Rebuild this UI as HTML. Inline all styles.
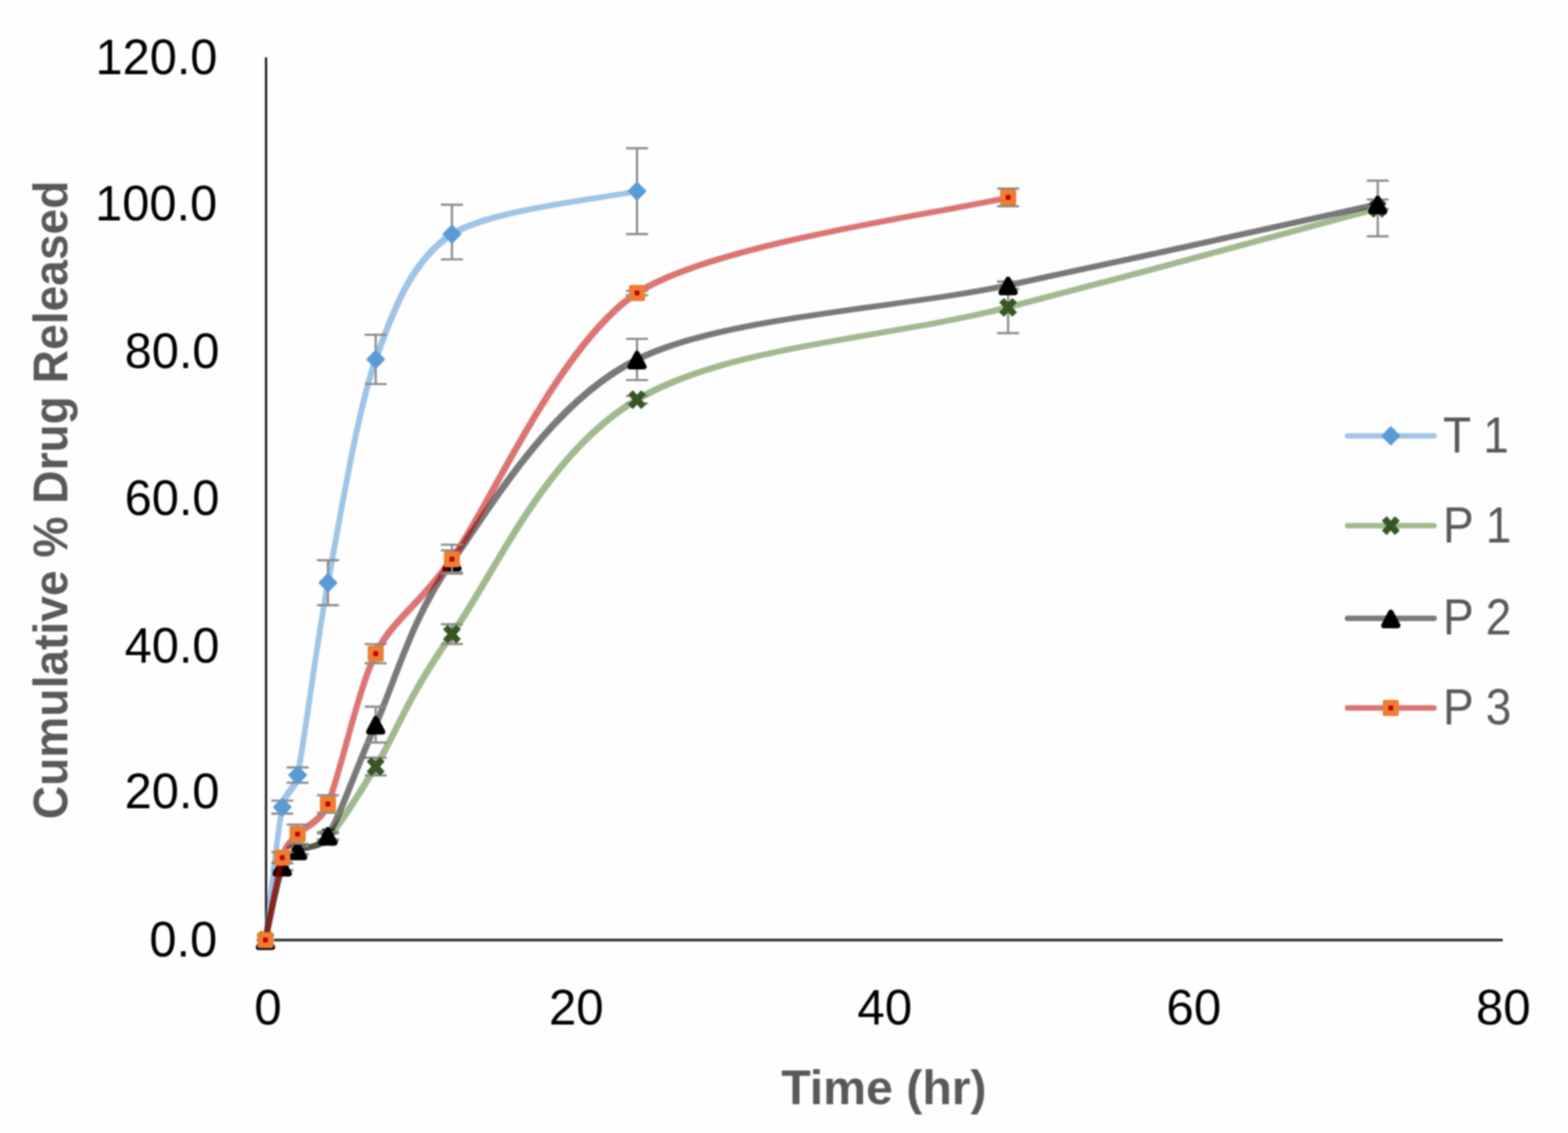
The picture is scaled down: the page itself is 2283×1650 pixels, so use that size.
<!DOCTYPE html>
<html><head><meta charset="utf-8"><title>Cumulative % Drug Released</title>
<style>
html,body{margin:0;padding:0;background:#fefefe;width:2283px;height:1650px;overflow:hidden}
svg{display:block;filter:blur(0.8px)}
text{font-family:"Liberation Sans",Arial,sans-serif}
</style></head><body>
<svg width="2283" height="1650" viewBox="0 0 2283 1650">
<defs><filter id="sq" filterUnits="userSpaceOnUse" x="0" y="0" width="2283" height="1650"><feMorphology operator="dilate" radius="2.75"/></filter></defs>
<rect width="2283" height="1650" fill="#fefefe"/>

<line x1="387.4" y1="83.5" x2="387.4" y2="1369.0" stroke="#1a1a1a" stroke-width="3.3"/>
<line x1="387.4" y1="1369.0" x2="2188" y2="1369.0" stroke="#383838" stroke-width="4.2"/>
<text transform="translate(316.20,1392.70) scale(1.0,1.03)" text-anchor="end" font-size="71" fill="#000" >0.0</text>
<text transform="translate(319.60,1177.45) scale(1.0,1.03)" text-anchor="end" font-size="71" fill="#000" >20.0</text>
<text transform="translate(319.60,965.45) scale(1.0,1.03)" text-anchor="end" font-size="71" fill="#000" >40.0</text>
<text transform="translate(319.60,749.60) scale(1.0,1.03)" text-anchor="end" font-size="71" fill="#000" >60.0</text>
<text transform="translate(319.60,536.30) scale(1.0,1.03)" text-anchor="end" font-size="71" fill="#000" >80.0</text>
<text transform="translate(316.20,321.05) scale(1.0,1.03)" text-anchor="end" font-size="71" fill="#000" >100.0</text>
<text transform="translate(316.60,108.30) scale(1.0,1.03)" text-anchor="end" font-size="71" fill="#000" >120.0</text>
<text transform="translate(390.20,1492.30) scale(1.01,1.02)" text-anchor="middle" font-size="71" fill="#000" >0</text>
<text transform="translate(839.05,1492.30) scale(1.01,1.02)" text-anchor="middle" font-size="71" fill="#000" >20</text>
<text transform="translate(1288.15,1492.30) scale(1.01,1.02)" text-anchor="middle" font-size="71" fill="#000" >40</text>
<text transform="translate(1738.15,1492.30) scale(1.01,1.02)" text-anchor="middle" font-size="71" fill="#000" >60</text>
<text transform="translate(2188.80,1492.30) scale(1.01,1.02)" text-anchor="middle" font-size="71" fill="#000" >80</text>
<text x="1287" y="1608" text-anchor="middle" font-size="70" font-weight="bold" fill="#595959" textLength="299" lengthAdjust="spacingAndGlyphs">Time (hr)</text>
<text transform="translate(97.7,728) rotate(-90)" x="0" y="0" text-anchor="middle" font-size="70" font-weight="bold" fill="#595959" textLength="930" lengthAdjust="spacingAndGlyphs">Cumulative % Drug Released</text>
<g opacity="0.58"><path filter="url(#sq)" d="M386.50,1369.00 C390.18,1339.96 403.98,1211.43 411.00,1175.40 C415.94,1150.05 428.15,1154.12 433.30,1128.82 C443.28,1079.81 460.44,939.51 477.50,848.70 C494.56,757.88 519.92,599.54 547.00,523.39 C574.08,447.24 600.92,377.78 658.00,341.03 C715.08,304.28 887.08,287.79 927.50,278.39" stroke="#5B9BD5" stroke-width="1.5" fill="none" stroke-linecap="round" stroke-linejoin="round"/></g>
<path d="M411.00,1165.98 V1184.82 M395.00,1165.98 H427.00 M395.00,1184.82 H427.00" stroke="#8A8A8A" stroke-width="3.2" fill="none"/>
<path d="M433.30,1117.68 V1139.96 M417.30,1117.68 H449.30 M417.30,1139.96 H449.30" stroke="#8A8A8A" stroke-width="3.2" fill="none"/>
<path d="M477.50,815.93 V881.46 M461.50,815.93 H493.50 M461.50,881.46 H493.50" stroke="#8A8A8A" stroke-width="3.2" fill="none"/>
<path d="M547.00,487.52 V559.26 M531.00,487.52 H563.00 M531.00,559.26 H563.00" stroke="#8A8A8A" stroke-width="3.2" fill="none"/>
<path d="M658.00,298.20 V377.76 M642.00,298.20 H674.00 M642.00,377.76 H674.00" stroke="#8A8A8A" stroke-width="3.2" fill="none"/>
<path d="M927.50,215.86 V340.92 M911.50,215.86 H943.50 M911.50,340.92 H943.50" stroke="#8A8A8A" stroke-width="3.2" fill="none"/>
<path d="M386.50,1356.00 L399.20,1369.00 L386.50,1382.00 L373.80,1369.00 Z" fill="#5B9BD5" stroke="#5B9BD5" stroke-width="2" stroke-linejoin="round"/>
<path d="M411.00,1162.40 L423.70,1175.40 L411.00,1188.40 L398.30,1175.40 Z" fill="#5B9BD5" stroke="#5B9BD5" stroke-width="2" stroke-linejoin="round"/>
<path d="M433.30,1115.82 L446.00,1128.82 L433.30,1141.82 L420.60,1128.82 Z" fill="#5B9BD5" stroke="#5B9BD5" stroke-width="2" stroke-linejoin="round"/>
<path d="M477.50,835.70 L490.20,848.70 L477.50,861.70 L464.80,848.70 Z" fill="#5B9BD5" stroke="#5B9BD5" stroke-width="2" stroke-linejoin="round"/>
<path d="M547.00,510.39 L559.70,523.39 L547.00,536.39 L534.30,523.39 Z" fill="#5B9BD5" stroke="#5B9BD5" stroke-width="2" stroke-linejoin="round"/>
<path d="M658.00,328.03 L670.70,341.03 L658.00,354.03 L645.30,341.03 Z" fill="#5B9BD5" stroke="#5B9BD5" stroke-width="2" stroke-linejoin="round"/>
<path d="M927.50,265.39 L940.20,278.39 L927.50,291.39 L914.80,278.39 Z" fill="#5B9BD5" stroke="#5B9BD5" stroke-width="2" stroke-linejoin="round"/>
<g opacity="0.55"><path filter="url(#sq)" d="M386.50,1369.00 C390.58,1351.15 403.20,1283.51 411.00,1261.92 C416.38,1247.03 422.22,1246.57 433.30,1239.43 C444.38,1232.29 461.00,1236.96 477.50,1219.09 C496.45,1198.56 516.92,1165.55 547.00,1116.29 C577.08,1067.03 594.58,1012.60 658.00,923.55 C721.42,834.49 792.53,661.29 927.50,581.96 C1062.47,502.63 1288.05,493.98 1467.80,447.58 C1647.55,401.18 1916.30,327.56 2006.00,303.55" stroke="#548235" stroke-width="1.5" fill="none" stroke-linecap="round" stroke-linejoin="round"/></g>
<path d="M411.00,1256.57 V1267.27 M395.00,1256.57 H427.00 M395.00,1267.27 H427.00" stroke="#8A8A8A" stroke-width="3.2" fill="none"/>
<path d="M433.30,1234.08 V1244.79 M417.30,1234.08 H449.30 M417.30,1244.79 H449.30" stroke="#8A8A8A" stroke-width="3.2" fill="none"/>
<path d="M477.50,1213.73 V1224.44 M461.50,1213.73 H493.50 M461.50,1224.44 H493.50" stroke="#8A8A8A" stroke-width="3.2" fill="none"/>
<path d="M547.00,1103.44 V1129.14 M531.00,1103.44 H563.00 M531.00,1129.14 H563.00" stroke="#8A8A8A" stroke-width="3.2" fill="none"/>
<path d="M658.00,909.20 V937.90 M642.00,909.20 H674.00 M642.00,937.90 H674.00" stroke="#8A8A8A" stroke-width="3.2" fill="none"/>
<path d="M927.50,576.61 V587.32 M911.50,576.61 H943.50 M911.50,587.32 H943.50" stroke="#8A8A8A" stroke-width="3.2" fill="none"/>
<path d="M1467.80,410.10 V485.05 M1451.80,410.10 H1483.80 M1451.80,485.05 H1483.80" stroke="#8A8A8A" stroke-width="3.2" fill="none"/>
<path d="M2006.00,263.08 V344.03 M1990.00,263.08 H2022.00 M1990.00,344.03 H2022.00" stroke="#8A8A8A" stroke-width="3.2" fill="none"/>
<path d="M377.00,1358.50 L396.00,1379.50 M396.00,1358.50 L377.00,1379.50" stroke="#375623" stroke-width="9.50" stroke-linecap="butt" fill="none"/>
<path d="M401.50,1251.42 L420.50,1272.42 M420.50,1251.42 L401.50,1272.42" stroke="#375623" stroke-width="9.50" stroke-linecap="butt" fill="none"/>
<path d="M423.80,1228.93 L442.80,1249.93 M442.80,1228.93 L423.80,1249.93" stroke="#375623" stroke-width="9.50" stroke-linecap="butt" fill="none"/>
<path d="M468.00,1208.59 L487.00,1229.59 M487.00,1208.59 L468.00,1229.59" stroke="#375623" stroke-width="9.50" stroke-linecap="butt" fill="none"/>
<path d="M537.50,1105.79 L556.50,1126.79 M556.50,1105.79 L537.50,1126.79" stroke="#375623" stroke-width="9.50" stroke-linecap="butt" fill="none"/>
<path d="M648.50,913.05 L667.50,934.05 M667.50,913.05 L648.50,934.05" stroke="#375623" stroke-width="9.50" stroke-linecap="butt" fill="none"/>
<path d="M918.00,571.46 L937.00,592.46 M937.00,571.46 L918.00,592.46" stroke="#375623" stroke-width="9.50" stroke-linecap="butt" fill="none"/>
<path d="M1458.30,437.08 L1477.30,458.08 M1477.30,437.08 L1458.30,458.08" stroke="#375623" stroke-width="9.50" stroke-linecap="butt" fill="none"/>
<path d="M1996.50,293.05 L2015.50,314.05 M2015.50,293.05 L1996.50,314.05" stroke="#375623" stroke-width="9.50" stroke-linecap="butt" fill="none"/>
<g opacity="0.52"><path filter="url(#sq)" d="M386.50,1369.00 C390.30,1352.40 403.75,1282.17 411.00,1261.92 C416.47,1246.65 422.99,1245.33 433.30,1238.36 C443.61,1231.39 464.55,1237.81 477.50,1216.95 C495.12,1188.56 519.02,1117.16 547.00,1055.26 C574.98,993.35 599.02,899.96 658.00,817.54 C716.98,735.12 801.98,585.82 927.50,523.50 C1053.02,461.17 1300.63,450.49 1467.80,415.45 C1634.97,380.42 1922.58,315.74 2006.00,297.45" stroke="#000000" stroke-width="1.5" fill="none" stroke-linecap="round" stroke-linejoin="round"/></g>
<path d="M411.00,1256.57 V1267.27 M395.00,1256.57 H427.00 M395.00,1267.27 H427.00" stroke="#8A8A8A" stroke-width="3.2" fill="none"/>
<path d="M433.30,1233.01 V1243.72 M417.30,1233.01 H449.30 M417.30,1243.72 H449.30" stroke="#8A8A8A" stroke-width="3.2" fill="none"/>
<path d="M477.50,1211.59 V1222.30 M461.50,1211.59 H493.50 M461.50,1222.30 H493.50" stroke="#8A8A8A" stroke-width="3.2" fill="none"/>
<path d="M547.00,1029.13 V1081.38 M531.00,1029.13 H563.00 M531.00,1081.38 H563.00" stroke="#8A8A8A" stroke-width="3.2" fill="none"/>
<path d="M658.00,801.48 V833.60 M642.00,801.48 H674.00 M642.00,833.60 H674.00" stroke="#8A8A8A" stroke-width="3.2" fill="none"/>
<path d="M927.50,493.51 V553.48 M911.50,493.51 H943.50 M911.50,553.48 H943.50" stroke="#8A8A8A" stroke-width="3.2" fill="none"/>
<path d="M1467.80,410.10 V420.81 M1451.80,410.10 H1483.80 M1451.80,420.81 H1483.80" stroke="#8A8A8A" stroke-width="3.2" fill="none"/>
<path d="M2006.00,290.49 V304.41 M1990.00,290.49 H2022.00 M1990.00,304.41 H2022.00" stroke="#8A8A8A" stroke-width="3.2" fill="none"/>
<path d="M386.50,1360.50 L396.50,1379.50 L376.50,1379.50 Z" fill="#000000" stroke="#000000" stroke-width="8.00" stroke-linejoin="round"/>
<path d="M411.00,1253.42 L421.00,1272.42 L401.00,1272.42 Z" fill="#000000" stroke="#000000" stroke-width="8.00" stroke-linejoin="round"/>
<path d="M433.30,1229.86 L443.30,1248.86 L423.30,1248.86 Z" fill="#000000" stroke="#000000" stroke-width="8.00" stroke-linejoin="round"/>
<path d="M477.50,1208.45 L487.50,1227.45 L467.50,1227.45 Z" fill="#000000" stroke="#000000" stroke-width="8.00" stroke-linejoin="round"/>
<path d="M547.00,1046.76 L557.00,1065.76 L537.00,1065.76 Z" fill="#000000" stroke="#000000" stroke-width="8.00" stroke-linejoin="round"/>
<path d="M658.00,809.04 L668.00,828.04 L648.00,828.04 Z" fill="#000000" stroke="#000000" stroke-width="8.00" stroke-linejoin="round"/>
<path d="M927.50,515.00 L937.50,534.00 L917.50,534.00 Z" fill="#000000" stroke="#000000" stroke-width="8.00" stroke-linejoin="round"/>
<path d="M1467.80,406.95 L1477.80,425.95 L1457.80,425.95 Z" fill="#000000" stroke="#000000" stroke-width="8.00" stroke-linejoin="round"/>
<path d="M2006.00,288.95 L2016.00,307.95 L1996.00,307.95 Z" fill="#000000" stroke="#000000" stroke-width="8.00" stroke-linejoin="round"/>
<g opacity="0.54"><path filter="url(#sq)" d="M386.50,1369.00 C389.93,1352.21 404.45,1270.66 411.00,1249.07 C416.94,1229.51 423.99,1225.75 433.30,1214.80 C442.61,1203.86 465.13,1199.49 477.50,1170.90 C493.42,1134.10 521.73,1001.84 547.00,951.92 C572.27,902.00 606.14,885.91 658.00,814.33 C711.27,740.79 814.13,500.45 927.50,426.70 C1040.87,352.94 1392.16,306.98 1467.80,287.49" stroke="#C00000" stroke-width="1.5" fill="none" stroke-linecap="round" stroke-linejoin="round"/></g>
<path d="M411.00,1241.04 V1257.10 M395.00,1241.04 H427.00 M395.00,1257.10 H427.00" stroke="#8A8A8A" stroke-width="3.2" fill="none"/>
<path d="M433.30,1200.88 V1228.73 M417.30,1200.88 H449.30 M417.30,1228.73 H449.30" stroke="#8A8A8A" stroke-width="3.2" fill="none"/>
<path d="M477.50,1158.05 V1183.75 M461.50,1158.05 H493.50 M461.50,1183.75 H493.50" stroke="#8A8A8A" stroke-width="3.2" fill="none"/>
<path d="M547.00,938.00 V965.84 M531.00,938.00 H563.00 M531.00,965.84 H563.00" stroke="#8A8A8A" stroke-width="3.2" fill="none"/>
<path d="M658.00,793.23 V835.42 M642.00,793.23 H674.00 M642.00,835.42 H674.00" stroke="#8A8A8A" stroke-width="3.2" fill="none"/>
<path d="M927.50,423.48 V429.91 M911.50,423.48 H943.50 M911.50,429.91 H943.50" stroke="#8A8A8A" stroke-width="3.2" fill="none"/>
<path d="M1467.80,274.64 V300.34 M1451.80,274.64 H1483.80 M1451.80,300.34 H1483.80" stroke="#8A8A8A" stroke-width="3.2" fill="none"/>
<rect x="374.80" y="1357.30" width="23.40" height="23.40" rx="3" fill="#ED7D31"/><rect x="383.00" y="1365.50" width="7.00" height="7.00" fill="#C00000"/>
<rect x="399.30" y="1237.37" width="23.40" height="23.40" rx="3" fill="#ED7D31"/><rect x="407.50" y="1245.57" width="7.00" height="7.00" fill="#C00000"/>
<rect x="421.60" y="1203.10" width="23.40" height="23.40" rx="3" fill="#ED7D31"/><rect x="429.80" y="1211.30" width="7.00" height="7.00" fill="#C00000"/>
<rect x="465.80" y="1159.20" width="23.40" height="23.40" rx="3" fill="#ED7D31"/><rect x="474.00" y="1167.40" width="7.00" height="7.00" fill="#C00000"/>
<rect x="535.30" y="940.22" width="23.40" height="23.40" rx="3" fill="#ED7D31"/><rect x="543.50" y="948.42" width="7.00" height="7.00" fill="#C00000"/>
<rect x="646.30" y="802.63" width="23.40" height="23.40" rx="3" fill="#ED7D31"/><rect x="654.50" y="810.83" width="7.00" height="7.00" fill="#C00000"/>
<rect x="915.80" y="415.00" width="23.40" height="23.40" rx="3" fill="#ED7D31"/><rect x="924.00" y="423.20" width="7.00" height="7.00" fill="#C00000"/>
<rect x="1456.10" y="275.79" width="23.40" height="23.40" rx="3" fill="#ED7D31"/><rect x="1464.30" y="283.99" width="7.00" height="7.00" fill="#C00000"/>
<line x1="1962" y1="634.8" x2="2088" y2="634.8" stroke="#A2C4E6" stroke-width="8" stroke-linecap="round"/>
<path d="M2025.00,621.80 L2037.70,634.80 L2025.00,647.80 L2012.30,634.80 Z" fill="#5B9BD5" stroke="#5B9BD5" stroke-width="2" stroke-linejoin="round"/>
<text transform="translate(2101.00,658.80) scale(0.945,1.035)" text-anchor="start" font-size="71" fill="#595959" >T 1</text>
<line x1="1962" y1="765.5" x2="2088" y2="765.5" stroke="#A0BC8F" stroke-width="8" stroke-linecap="round"/>
<path d="M2015.50,755.00 L2034.50,776.00 M2034.50,755.00 L2015.50,776.00" stroke="#375623" stroke-width="9.50" stroke-linecap="butt" fill="none"/>
<text transform="translate(2101.00,789.50) scale(0.945,1.035)" text-anchor="start" font-size="71" fill="#595959" >P 1</text>
<line x1="1962" y1="900.4" x2="2088" y2="900.4" stroke="#7A7A7A" stroke-width="8" stroke-linecap="round"/>
<path d="M2025.00,891.90 L2035.00,910.90 L2015.00,910.90 Z" fill="#000000" stroke="#000000" stroke-width="8.00" stroke-linejoin="round"/>
<text transform="translate(2101.00,924.40) scale(0.945,1.035)" text-anchor="start" font-size="71" fill="#595959" >P 2</text>
<line x1="1962" y1="1031" x2="2088" y2="1031" stroke="#DD7575" stroke-width="8" stroke-linecap="round"/>
<rect x="2013.30" y="1019.30" width="23.40" height="23.40" rx="3" fill="#ED7D31"/><rect x="2021.50" y="1027.50" width="7.00" height="7.00" fill="#C00000"/>
<text transform="translate(2101.00,1055.00) scale(0.945,1.035)" text-anchor="start" font-size="71" fill="#595959" >P 3</text>
</svg></body></html>
